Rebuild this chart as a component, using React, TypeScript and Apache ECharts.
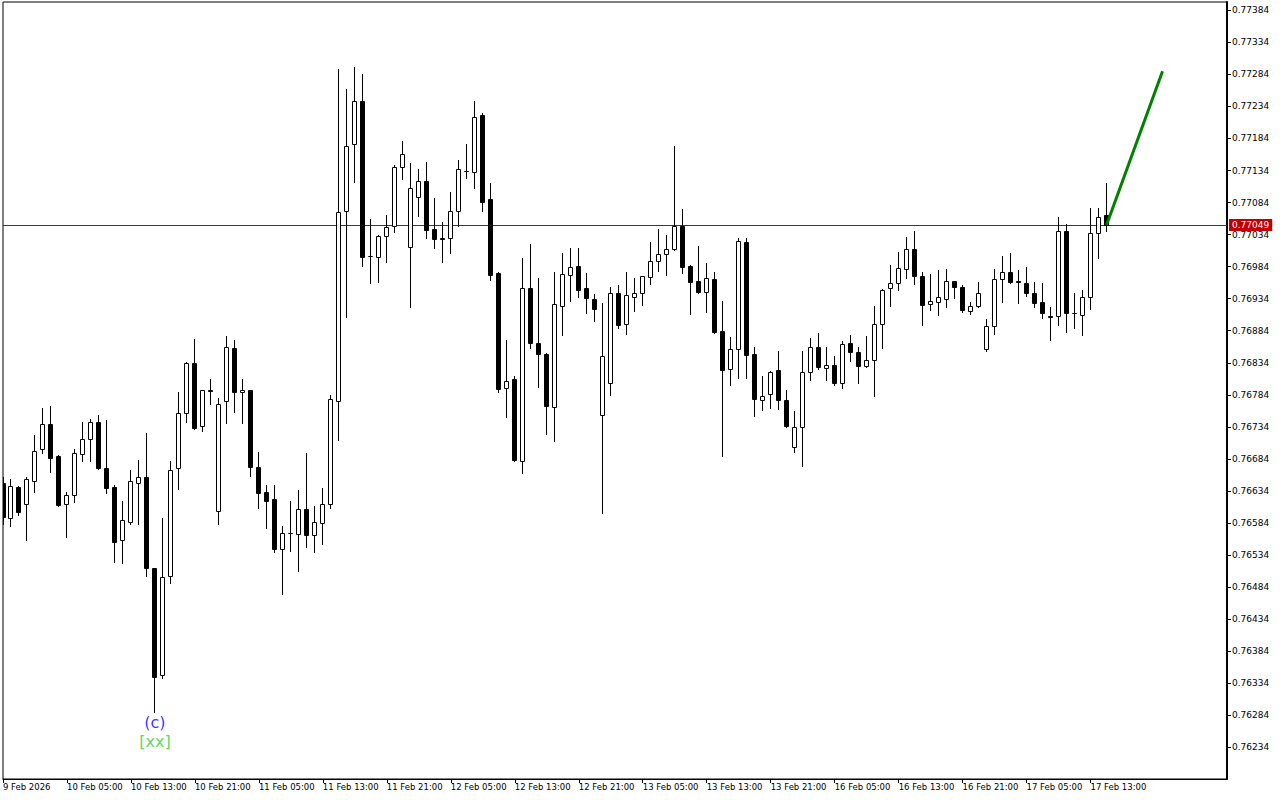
import { useEffect, useRef } from "react";
import * as echarts from "echarts";

const opens = [
  0.76646, 0.76591, 0.7664, 0.76613, 0.76649, 0.76699, 0.76738, 0.76688, 0.76613, 0.76627,
  0.76691, 0.76715, 0.76741, 0.76669, 0.7664, 0.76558, 0.76585, 0.76647, 0.76655, 0.76513,
  0.76346, 0.76501, 0.76669, 0.76755, 0.76833, 0.76735, 0.76791, 0.76602, 0.76775, 0.76857,
  0.76789, 0.76791, 0.76672, 0.76632, 0.76621, 0.76543, 0.76569, 0.76567, 0.76605, 0.76565,
  0.76584, 0.76614, 0.76774, 0.77071, 0.77175, 0.77242, 0.77001, 0.76999, 0.77032, 0.77047,
  0.77139, 0.77015, 0.77092, 0.77117, 0.77042, 0.77028, 0.77029, 0.77071, 0.77134, 0.77132,
  0.7722, 0.77089, 0.76974, 0.76795, 0.76808, 0.76681, 0.76951, 0.76865, 0.76847, 0.76765,
  0.76923, 0.76971, 0.76985, 0.7695, 0.76933, 0.76752, 0.76802, 0.76943, 0.76894, 0.76937,
  0.76943, 0.76968, 0.76993, 0.77003, 0.77011, 0.77047, 0.76985, 0.76962, 0.76945, 0.76965,
  0.76883, 0.76824, 0.76855, 0.77023, 0.76847, 0.76776, 0.76786, 0.76822, 0.76776, 0.76702,
  0.76733, 0.7682, 0.76858, 0.76826, 0.7683, 0.76802, 0.76865, 0.76851, 0.76829, 0.76839,
  0.76894, 0.76951, 0.76959, 0.76981, 0.77012, 0.7697, 0.76925, 0.76929, 0.76934, 0.76961,
  0.76953, 0.76915, 0.76923, 0.76855, 0.76892, 0.76964, 0.76975, 0.76961, 0.76959, 0.76943,
  0.76929, 0.76907, 0.76907, 0.7704, 0.76912, 0.76909, 0.76936, 0.77036, 0.77064,
];
const highs = [
  0.76655, 0.76652, 0.76641, 0.76655, 0.76721, 0.76764, 0.76766, 0.7669, 0.76633, 0.767,
  0.76741, 0.76747, 0.76752, 0.76744, 0.76644, 0.76619, 0.76666, 0.76682, 0.76725, 0.76513,
  0.76591, 0.7668, 0.76788, 0.76835, 0.76871, 0.76791, 0.76809, 0.76779, 0.76876, 0.7687,
  0.76809, 0.76792, 0.76694, 0.76643, 0.76644, 0.7658, 0.76619, 0.76635, 0.76693, 0.7661,
  0.76638, 0.76783, 0.77293, 0.77261, 0.77295, 0.77284, 0.77058, 0.77033, 0.77064, 0.77142,
  0.7718, 0.77145, 0.77136, 0.77148, 0.77091, 0.77053, 0.771, 0.77151, 0.77175, 0.77242,
  0.77223, 0.77114, 0.76975, 0.76869, 0.76813, 0.76997, 0.77019, 0.76967, 0.7685, 0.76975,
  0.77005, 0.77013, 0.77013, 0.76974, 0.76942, 0.76928, 0.76953, 0.76955, 0.76975, 0.76967,
  0.7697, 0.77022, 0.77042, 0.77034, 0.77172, 0.77074, 0.76986, 0.77016, 0.76989, 0.76975,
  0.7693, 0.76874, 0.77028, 0.77029, 0.76858, 0.76814, 0.76821, 0.76853, 0.76791, 0.76758,
  0.76853, 0.76872, 0.7688, 0.76858, 0.76844, 0.76868, 0.76878, 0.76859, 0.76876, 0.76922,
  0.76949, 0.76986, 0.77007, 0.77031, 0.77039, 0.76975, 0.76972, 0.76978, 0.76981, 0.76961,
  0.76955, 0.76929, 0.7696, 0.76903, 0.76981, 0.77, 0.77006, 0.76978, 0.76983, 0.7696,
  0.76958, 0.76921, 0.77061, 0.7705, 0.76943, 0.76947, 0.77075, 0.77075, 0.77114,
];
const lows = [
  0.76583, 0.76579, 0.76597, 0.76557, 0.76633, 0.76693, 0.76663, 0.7661, 0.76562, 0.76616,
  0.7668, 0.7668, 0.76668, 0.7663, 0.76523, 0.76521, 0.76582, 0.76582, 0.76501, 0.76289,
  0.76342, 0.7649, 0.76637, 0.76741, 0.76731, 0.76727, 0.76769, 0.76583, 0.7674, 0.76757,
  0.7674, 0.76658, 0.76607, 0.76576, 0.76538, 0.76473, 0.7654, 0.76509, 0.76547, 0.76538,
  0.76551, 0.76607, 0.76713, 0.76906, 0.77116, 0.76985, 0.76958, 0.7696, 0.76991, 0.77038,
  0.77121, 0.76921, 0.77063, 0.77029, 0.77013, 0.76991, 0.77005, 0.77048, 0.77122, 0.77107,
  0.77071, 0.76963, 0.76789, 0.76749, 0.76681, 0.76662, 0.76857, 0.76796, 0.76723, 0.76712,
  0.76877, 0.7693, 0.76937, 0.76912, 0.76899, 0.76599, 0.76784, 0.76888, 0.76879, 0.76915,
  0.76924, 0.76957, 0.76977, 0.76971, 0.7701, 0.76974, 0.7691, 0.76943, 0.76913, 0.76881,
  0.76689, 0.76799, 0.7681, 0.7681, 0.76751, 0.7676, 0.76763, 0.76762, 0.76734, 0.76695,
  0.76673, 0.76807, 0.76824, 0.76807, 0.76799, 0.76795, 0.76837, 0.76802, 0.76827, 0.76782,
  0.76857, 0.76923, 0.76947, 0.76967, 0.76957, 0.76893, 0.76916, 0.76908, 0.76921, 0.76935,
  0.76913, 0.7691, 0.76921, 0.76852, 0.76879, 0.76929, 0.76959, 0.76927, 0.76938, 0.76921,
  0.76904, 0.7687, 0.76893, 0.76882, 0.76888, 0.76877, 0.76918, 0.76997, 0.7704,
];
const closes = [
  0.76594, 0.76641, 0.76601, 0.76652, 0.76697, 0.76738, 0.76686, 0.76612, 0.76627, 0.76693,
  0.76715, 0.76741, 0.76669, 0.76638, 0.76555, 0.76588, 0.76649, 0.76655, 0.76513, 0.76343,
  0.76499, 0.76666, 0.76755, 0.76833, 0.76732, 0.76791, 0.7679, 0.76769, 0.76858, 0.76788,
  0.76792, 0.76672, 0.7663, 0.76618, 0.76543, 0.76569, 0.76568, 0.76605, 0.76565, 0.76585,
  0.76613, 0.76777, 0.77069, 0.77172, 0.77242, 0.76999, 0.77, 0.77032, 0.77046, 0.7714,
  0.7716, 0.77106, 0.77117, 0.77041, 0.77027, 0.77027, 0.77071, 0.77137, 0.77133, 0.77218,
  0.77085, 0.76971, 0.76793, 0.76806, 0.76683, 0.7695, 0.76865, 0.76848, 0.76766, 0.76925,
  0.76972, 0.76984, 0.76948, 0.76935, 0.76918, 0.76844, 0.76943, 0.76893, 0.76939, 0.76943,
  0.7697, 0.76993, 0.77003, 0.77011, 0.77047, 0.76983, 0.7696, 0.76944, 0.76967, 0.76882,
  0.76823, 0.76856, 0.77024, 0.76846, 0.76777, 0.76782, 0.7682, 0.76776, 0.76735, 0.76733,
  0.7682, 0.76858, 0.76827, 0.7683, 0.76802, 0.76864, 0.76851, 0.76829, 0.76839, 0.76894,
  0.76948, 0.76959, 0.76982, 0.77012, 0.7697, 0.76924, 0.76931, 0.76936, 0.76961, 0.76953,
  0.76916, 0.76923, 0.76943, 0.76892, 0.76964, 0.76975, 0.7696, 0.7696, 0.76943, 0.76928,
  0.76912, 0.76906, 0.7704, 0.76912, 0.76911, 0.76936, 0.77036, 0.77062, 0.77049,
];

// one label every 8 hourly bars
const timeLabels = [
  "9 Feb 2026", "10 Feb 05:00", "10 Feb 13:00", "10 Feb 21:00", "11 Feb 05:00", "11 Feb 13:00",
  "11 Feb 21:00", "12 Feb 05:00", "12 Feb 13:00", "12 Feb 21:00", "13 Feb 05:00", "13 Feb 13:00",
  "13 Feb 21:00", "16 Feb 05:00", "16 Feb 13:00", "16 Feb 21:00", "17 Feb 05:00", "17 Feb 13:00",
];
const priceTicks = [
  "0.76234", "0.76284", "0.76334", "0.76384", "0.76434", "0.76484", "0.76534", "0.76584",
  "0.76634", "0.76684", "0.76734", "0.76784", "0.76834", "0.76884", "0.76934", "0.76984",
  "0.77034", "0.77084", "0.77134", "0.77184", "0.77234", "0.77284", "0.77334", "0.77384",
];
const lastPrice = 0.77049;
const projectionX = [138, 145];
const projectionY = [0.77049, 0.77289];
const waveIndex = 19;
const waveLabel = "(c)";
const degreeLabel = "[xx]";

const FONT = "DejaVu Sans";

export default function App() {
  const ref = useRef<HTMLDivElement>(null);
  useEffect(() => {
    const chart = echarts.init(ref.current!, null, { renderer: "svg" });
    const candles = opens.map((o, i) => [i, o, closes[i], lows[i], highs[i]]);
    const tickIdx = timeLabels.map((_, i) => i * 8);
    const yTicks = priceTicks.map(Number);
    chart.setOption({
      animation: false,
      backgroundColor: "#ffffff",
      grid: {
        left: 2.5,
        right: 53,
        top: 2,
        bottom: 21,
        show: true,
        borderColor: "#000",
        borderWidth: 1,
        backgroundColor: "#fff",
      },
      xAxis: {
        type: "value",
        min: 0,
        max: 153.0625,
        axisLine: { show: true, onZero: false, lineStyle: { color: "#000", width: 1 } },
        axisTick: { show: true, length: 4, lineStyle: { color: "#000" }, customValues: tickIdx },
        axisLabel: {
          customValues: tickIdx,
          formatter: (v: number) => timeLabels[Math.round(v / 8)] ?? "",
          align: "left",
          margin: 3,
          color: "#000",
          fontSize: 8.5,
          fontFamily: FONT,
        },
        splitLine: { show: false },
      },
      yAxis: {
        type: "value",
        position: "right",
        min: 0.761844,
        max: 0.77397,
        axisLine: { show: true, onZero: false, lineStyle: { color: "#000", width: 2 } },
        axisTick: { show: true, length: 4, lineStyle: { color: "#000" }, customValues: yTicks },
        axisLabel: {
          customValues: yTicks,
          formatter: (v: number) => v.toFixed(5),
          margin: 5,
          color: "#000",
          fontSize: 9,
          fontFamily: FONT,
        },
        splitLine: { show: false },
      },
      series: [
        {
          type: "custom",
          clip: true,
          data: candles,
          renderItem: (params: any, api: any) => {
            const x = api.value(0);
            const o = api.value(1);
            const c = api.value(2);
            const l = api.value(3);
            const h = api.value(4);
            const po = api.coord([x, o]);
            const pc = api.coord([x, c]);
            const pl = api.coord([x, l]);
            const ph = api.coord([x, h]);
            const cx = Math.floor(po[0]) + 0.5;
            const top = Math.round(Math.min(po[1], pc[1])) + 0.5;
            const bot = Math.round(Math.max(po[1], pc[1])) + 0.5;
            const bull = c > o;
            return {
              type: "group",
              children: [
                {
                  type: "line",
                  shape: { x1: cx, y1: Math.round(ph[1]), x2: cx, y2: Math.round(pl[1]) + 1 },
                  style: { stroke: "#000", lineWidth: 1 },
                },
                {
                  type: "rect",
                  shape: { x: cx - 2, y: top, width: 4, height: Math.max(bot - top, 0) },
                  style: { fill: bull ? "#fff" : "#000", stroke: "#000", lineWidth: 1 },
                },
              ],
            };
          },
          z: 3,
        },
        {
          type: "line",
          data: projectionX.map((x, i) => [x, projectionY[i]]),
          symbol: "none",
          lineStyle: { color: "#008000", width: 3 },
          z: 5,
          markLine: {
            silent: true,
            precision: 5,
            symbol: ["none", "none"],
            lineStyle: { color: "#c00000", width: 1, type: "solid" },
            label: {
              position: "end",
              formatter: lastPrice.toFixed(5),
              backgroundColor: "#c00000",
              color: "#fff",
              fontSize: 9,
              fontFamily: FONT,
              padding: [2, 3, 1, 3],
              distance: 2,
            },
            data: [{ yAxis: lastPrice }],
            z: 2,
          },
        },
        {
          type: "scatter",
          data: [[waveIndex, lows[waveIndex]]],
          symbolSize: 1,
          itemStyle: { color: "rgba(0,0,0,0)" },
          label: {
            show: true,
            position: "bottom",
            distance: 1,
            formatter: `{a|${waveLabel}}\n{b|${degreeLabel}}`,
            rich: {
              a: { color: "#0000ff", fontSize: 16, fontFamily: FONT, lineHeight: 19 },
              b: { color: "#32cd32", fontSize: 16, fontFamily: FONT, lineHeight: 19 },
            },
          },
          z: 6,
        },
      ],
    });
    return () => chart.dispose();
  }, []);
  return (
    <div
      ref={ref}
      style={{ position: "fixed", left: 0, top: 0, width: 1280, height: 800, background: "#fff" }}
    />
  );
}
